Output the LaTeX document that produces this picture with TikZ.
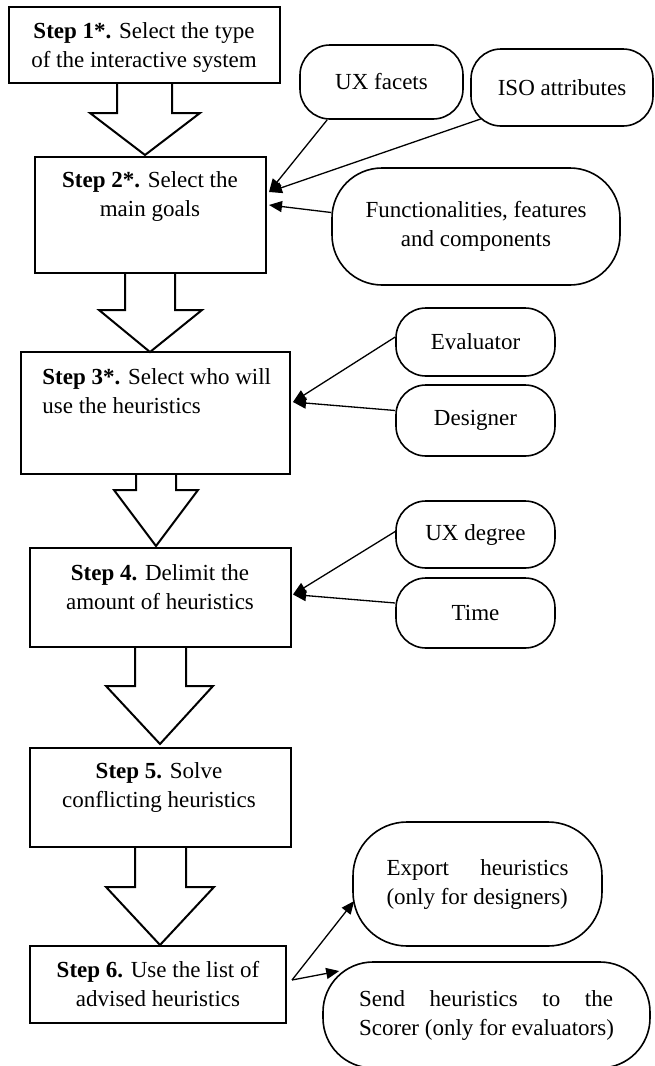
\documentclass[tikz,border=0pt]{standalone}
\usepackage{fontspec}
\setmainfont{Liberation Serif}
\usetikzlibrary{arrows.meta,calc}

\begin{document}
\begin{tikzpicture}[x=0.5pt,y=-0.5pt,
  txt/.style={font=\fontsize{11.5pt}{14.5pt}\selectfont},
  stepbox/.style={draw, line width=1pt, rectangle, inner sep=0pt},
  steptext/.style={txt, inner sep=0pt, align=center},
  factor/.style={draw, line width=0.8pt, rectangle, rounded corners=#1, inner sep=0pt, txt, align=center},
  factor/.default=15pt,
  blockarrow/.style={draw, line width=1pt, line join=miter},
  feed/.style={line width=0.65pt, -{Triangle[length=6.5pt,width=5.5pt]}},
]
\useasboundingbox (0,0) rectangle (654,1066);

% process steps
\node[stepbox, minimum width=135.5pt, minimum height=38pt]  (s1) at (144.5,45) {};
\node[stepbox, minimum width=115.5pt, minimum height=58pt]  (s2) at (150.5,215) {};
\node[stepbox, minimum width=134.5pt, minimum height=61pt]  (s3) at (155.5,413) {};
\node[stepbox, minimum width=130.5pt, minimum height=49.5pt] (s4) at (160.5,597.5) {};
\node[stepbox, minimum width=130.5pt, minimum height=49.5pt] (s5) at (160.5,797.5) {};
\node[stepbox, minimum width=128pt, minimum height=38.5pt]  (s6) at (158,984.5) {};

\node[steptext] (t1) at (144,47.5) {\textbf{Step 1*.} Select the type\\of the interactive system};
\node[steptext] (t2) at (150,196) {\textbf{Step 2*.} Select the\\main goals};
\node[steptext, anchor=west, align=left] (t3) at (42,391) {\textbf{Step 3*.} Select who will\\use the heuristics};
\node[steptext] (t4) at (160,587) {\textbf{Step 4.} Delimit the\\amount of heuristics};
\node[steptext] (t5) at (159,787.5) {\textbf{Step 5.} Solve\\conflicting heuristics};
\node[steptext] (t6) at (158,984) {\textbf{Step 6.} Use the list of\\advised heuristics};

% block arrows between steps
\draw[blockarrow] (117,83) -- (117,113) -- (90,113) -- (145,155) -- (200,113) -- (172,113) -- (172,83);
\draw[blockarrow] (125,273) -- (125,310) -- (99,310) -- (150,352) -- (202,310) -- (175,310) -- (175,273);
\draw[blockarrow] (136,474) -- (136,490) -- (114,490) -- (156,546) -- (198,490) -- (176,490) -- (176,474);
\draw[blockarrow] (135,647) -- (135,686) -- (106,686) -- (160,744) -- (213,686) -- (186,686) -- (186,647);
\draw[blockarrow] (135,847) -- (135,887) -- (106,887) -- (160,945) -- (214,887) -- (186,887) -- (186,847);

% inputs and outputs
\node[factor, minimum width=81.5pt, minimum height=37pt]   (ux)  at (381.5,82)  {UX facets};
\node[factor, minimum width=91pt, minimum height=38.5pt]   (iso) at (562,87.5)  {ISO attributes};
\node[factor=25pt, minimum width=144pt, minimum height=58.5pt] (fun) at (476,226.5) {Functionalities, features\\and components};
\node[factor, minimum width=79.5pt, minimum height=34pt]   (ev)  at (475.5,342) {Evaluator};
\node[factor, minimum width=79.5pt, minimum height=35.5pt] (de)  at (475.5,420.5) {Designer};
\node[factor, minimum width=79.5pt, minimum height=33.5pt] (uxd) at (475.5,534.5) {UX degree};
\node[factor, minimum width=79.5pt, minimum height=35pt]   (ti)  at (475.5,613) {Time};
\node[factor=27pt, minimum width=124.5pt, minimum height=62pt, align=left] (ex) at (477.5,884)
  {\makebox[91pt][s]{Export heuristics}\\(only for designers)};
\node[factor=25pt, minimum width=163.5pt, minimum height=53pt, align=left] (se) at (486.5,1015)
  {\makebox[127pt][s]{Send heuristics to the}\\Scorer (only for evaluators)};

% connectors
\draw[feed] ($(ux.south west)+(28,0)$) -- ($(s2.east)+(2,-23)$);
\draw[feed] ($(iso.south west)+(11,-8)$) -- ($(s2.east)+(2,-23)$);
\draw[feed] ($(fun.west)+(0,-14)$) -- ($(s2.east)+(2,-10)$);
\draw[feed] ($(ev.west)+(0,-5)$) -- ($(s3.east)+(2,-11)$);
\draw[feed] ($(de.west)+(0,-10)$) -- ($(s3.east)+(2,-11)$);
\draw[feed] ($(uxd.west)+(0,-3)$) -- ($(s4.east)+(1,-3)$);
\draw[feed] ($(ti.west)+(0,-10)$) -- ($(s4.east)+(1,-3)$);
\draw[feed] ($(s6.east)+(5,-4.5)$) -- ($(ex.west)+(2,17)$);
\draw[feed] ($(s6.east)+(5,-4.5)$) -- ($(se.west)+(17,-44)$);
\end{tikzpicture}
\end{document}
